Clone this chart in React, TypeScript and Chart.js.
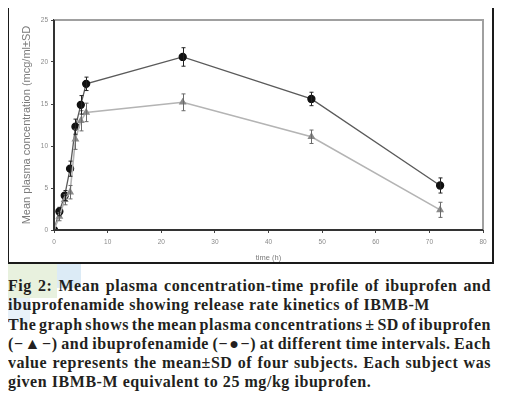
import React, { useEffect, useRef } from "react";
import { Chart, registerables } from "chart.js";

Chart.register(...registerables);

const times = [0, 1, 2, 3, 4, 5, 6, 24, 48, 72];
const ibuprofenamide = [0, 2.2, 4.1, 7.3, 12.3, 14.9, 17.4, 20.6, 15.6, 5.3];
const ibuprofenamideSD = [0, 0.5, 0.6, 0.9, 0.9, 1.1, 0.8, 1.1, 0.8, 0.9];
const ibuprofen = [0, 1.6, 3.6, 4.5, 10.8, 13.0, 14.0, 15.2, 11.1, 2.4];
const ibuprofenSD = [0, 0.5, 0.6, 0.8, 1.2, 1.2, 1.1, 1.0, 0.8, 0.9];
const xTicks = [0, 10, 20, 30, 40, 50, 60, 70, 80];
const yTicks = [0, 5, 10, 15, 20, 25];

const captionLines = [
  { text: "Fig 2: Mean plasma concentration-time profile of ibuprofen and", justify: true },
  { text: "ibuprofenamide showing release rate kinetics of IBMB-M", justify: false },
  { text: "The graph shows the mean plasma concentrations \u00b1 SD of ibuprofen", justify: true },
  { text: "(\u2212\u25b2\u2212) and ibuprofenamide (\u2212\u25cf\u2212) at different time intervals. Each", justify: true },
  { text: "value represents the mean\u00b1SD of four subjects. Each subject was", justify: true },
  { text: "given IBMB-M equivalent to 25 mg/kg ibuprofen.", justify: false },
];

const decorPlugin = {
  id: "errorBarsAndFrame",
  afterDatasetsDraw(chart: any) {
    const ctx = chart.ctx;
    const yScale = chart.scales.y;
    chart.data.datasets.forEach((ds: any, di: number) => {
      const meta = chart.getDatasetMeta(di);
      const sds: number[] = ds.sd;
      if (!sds) return;
      ctx.save();
      ctx.strokeStyle = ds.errorColor;
      ctx.lineWidth = 1;
      meta.data.forEach((pt: any, i: number) => {
        const v = ds.data[i].y;
        const sd = sds[i];
        if (!sd) return;
        const x = Math.round(pt.x) + 0.5;
        const yTop = yScale.getPixelForValue(v + sd);
        const yBot = yScale.getPixelForValue(v - sd);
        ctx.beginPath();
        ctx.moveTo(x, yTop);
        ctx.lineTo(x, yBot);
        ctx.moveTo(x - 2, yTop);
        ctx.lineTo(x + 2, yTop);
        ctx.moveTo(x - 2, yBot);
        ctx.lineTo(x + 2, yBot);
        ctx.stroke();
      });
      ctx.restore();
    });
    const { left, right, top, bottom } = chart.chartArea;
    ctx.save();
    ctx.strokeStyle = "#a0a0a0";
    ctx.lineWidth = 2;
    ctx.beginPath();
    ctx.moveTo(left, top);
    ctx.lineTo(right, top);
    ctx.lineTo(right, bottom);
    ctx.stroke();
    ctx.strokeStyle = "#333333";
    ctx.lineWidth = 2;
    ctx.beginPath();
    ctx.moveTo(left, top);
    ctx.lineTo(left, bottom);
    ctx.lineTo(right, bottom);
    ctx.stroke();
    ctx.restore();
  },
};

function ChartBox() {
  const ref = useRef<HTMLCanvasElement | null>(null);
  useEffect(() => {
    if (!ref.current) return;
    const chart = new Chart(ref.current, {
      type: "line",
      data: {
        datasets: [
          {
            label: "ibuprofen",
            data: times.map((t, i) => ({ x: t, y: ibuprofen[i] })),
            sd: ibuprofenSD,
            errorColor: "#6a6a6a",
            borderColor: "#b4b4b4",
            borderWidth: 1.6,
            pointStyle: "triangle",
            pointRadius: 3,
            pointBackgroundColor: "#8a8a8a",
            pointBorderColor: "#8a8a8a",
            tension: 0,
          } as any,
          {
            label: "ibuprofenamide",
            data: times.map((t, i) => ({ x: t, y: ibuprofenamide[i] })),
            sd: ibuprofenamideSD,
            errorColor: "#222",
            borderColor: "#5a5a5a",
            borderWidth: 1.3,
            pointStyle: "circle",
            pointRadius: 3.5,
            pointBackgroundColor: "#111",
            pointBorderColor: "#111",
            tension: 0,
          } as any,
        ],
      },
      options: {
        animation: false,
        responsive: false,
        maintainAspectRatio: false,
        layout: { padding: { top: 13, right: 9, left: 0, bottom: 0 } },
        plugins: { legend: { display: false }, tooltip: { enabled: false } },
        scales: {
          x: {
            type: "linear",
            min: 0,
            max: 80,
            afterBuildTicks: (s: any) => {
              s.ticks = xTicks.map((v) => ({ value: v }));
            },
            afterFit: (s: any) => {
              s.height = 32;
            },
            grid: { display: true, drawOnChartArea: false, tickLength: 3, color: "#444" },
            border: { display: true, color: "#333", width: 2 },
            ticks: { color: "#8a8a8a", font: { size: 6.5, family: "Arial, Liberation Sans" }, padding: 5 },
            title: {
              display: true,
              text: "time (h)",
              color: "#7a7a7a",
              font: { size: 7.5, family: "Arial, Liberation Sans" },
              padding: { top: 5, bottom: 0 },
            },
          },
          y: {
            type: "linear",
            min: 0,
            max: 25,
            afterBuildTicks: (s: any) => {
              s.ticks = yTicks.map((v) => ({ value: v }));
            },
            afterFit: (s: any) => {
              s.width = 45;
            },
            grid: { display: true, drawOnChartArea: false, tickLength: 3, color: "#444" },
            border: { display: true, color: "#333", width: 2 },
            ticks: { color: "#8a8a8a", font: { size: 6.5, family: "Arial, Liberation Sans" }, padding: 3 },
            title: {
              display: true,
              text: "Mean plasma concentration (mcg/ml\u00b1SD",
              color: "#7a7a7a",
              font: { size: 11, family: "Arial, Liberation Sans" },
              padding: { top: 11, bottom: 0 },
            },
          },
        },
      } as any,
      plugins: [decorPlugin],
    });
    return () => chart.destroy();
  }, []);
  return <canvas ref={ref} width={483} height={255} style={{ display: "block", width: 483, height: 255 }} />;
}

export default function App() {
  return (
    <div style={{ position: "relative", width: 499, height: 388 }}>
      <div style={{ position: "absolute", left: -8, top: 132, width: 7, height: 25, background: "#d4e6f4" }} />
      <div style={{ position: "absolute", left: -8, top: 157, width: 7, height: 48, background: "#e8f1df" }} />
      <div style={{ position: "absolute", left: -8, top: 205, width: 7, height: 47, background: "#f7d6e2" }} />
      <div style={{ position: "absolute", left: -8, top: 256, width: 57, height: 34, background: "#e2eed6", opacity: 0.8 }} />
      <div style={{ position: "absolute", left: 49, top: 256, width: 24, height: 24, background: "#d3e6f4", opacity: 0.8 }} />
      <div style={{ position: "absolute", left: -8, top: 290, width: 30, height: 25, background: "#e2eef7", opacity: 0.8 }} />
      <div
        style={{
          position: "absolute",
          left: -1,
          top: -3,
          width: 483,
          height: 255,
          borderStyle: "solid",
          borderWidth: 2,
          borderColor: "#1a1a1a",
          background: "#fff",
          boxSizing: "content-box",
        }}
      >
        <ChartBox />
      </div>
      <div
        style={{
          position: "absolute",
          left: 0,
          top: 268,
          width: 483,
          fontFamily: "'Liberation Serif', 'DejaVu Serif', serif",
          fontWeight: "bold",
          fontSize: 16,
          letterSpacing: "0.55px",
          lineHeight: "19.3px",
          color: "#231f20",
        }}
      >
        {captionLines.map((l, i) => (
          <div
            key={i}
            style={{
              textAlign: l.justify ? "justify" : "left",
              textAlignLast: l.justify ? "justify" : "left",
              wordSpacing: l.justify ? "-2px" : "0px",
              whiteSpace: "nowrap",
            }}
          >
            {l.text}
          </div>
        ))}
      </div>
    </div>
  );
}
